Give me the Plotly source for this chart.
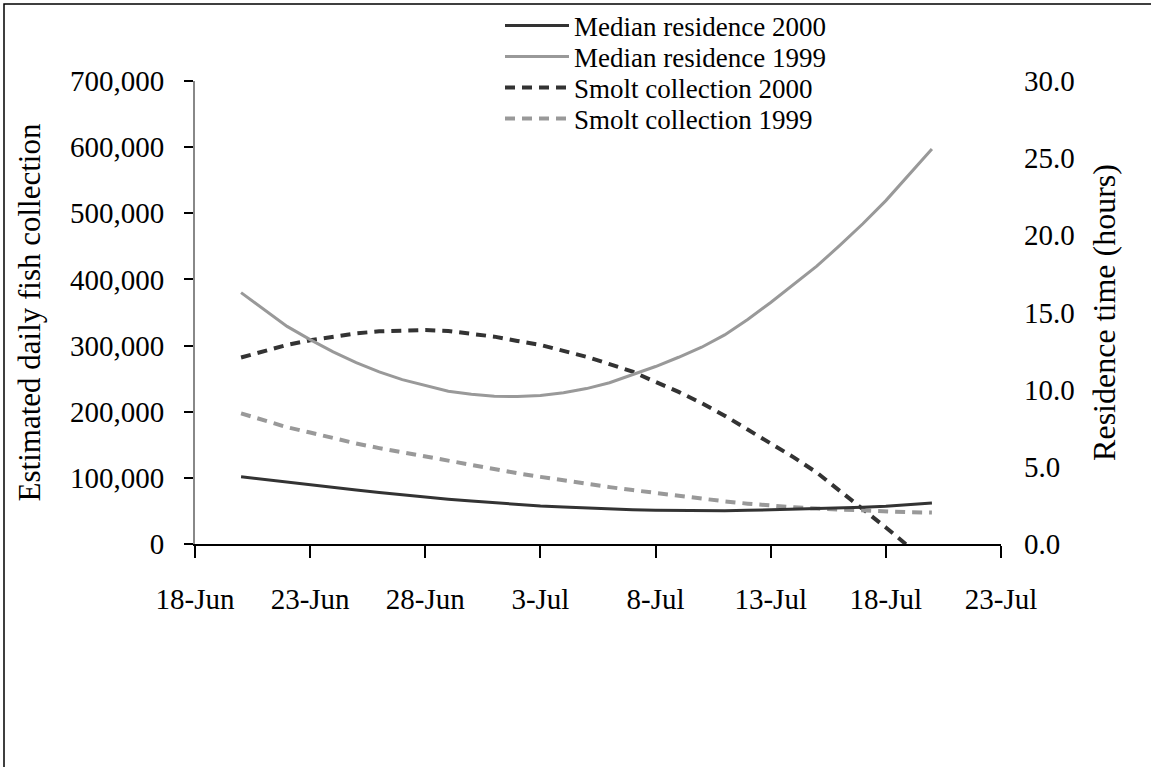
import plotly.graph_objects as go
import pandas as pd

# ---- data ----
dates = pd.date_range("2000-06-20", "2000-07-20", freq="D")

residence_2000 = [4.36, 4.18, 4.00, 3.82, 3.66, 3.50, 3.34, 3.18, 3.03, 2.90,
                  2.78, 2.66, 2.56, 2.46, 2.39, 2.32, 2.27, 2.22, 2.19, 2.17,
                  2.15, 2.15, 2.18, 2.22, 2.25, 2.28, 2.32, 2.38, 2.45, 2.55, 2.66]

residence_1999 = [16.29, 15.17, 14.10, 13.24, 12.45, 11.75, 11.15, 10.65, 10.28, 9.90,
                  9.70, 9.58, 9.55, 9.62, 9.80, 10.07, 10.45, 10.95, 11.50, 12.10,
                  12.75, 13.55, 14.55, 15.65, 16.80, 18.00, 19.35, 20.75, 22.25, 23.90, 25.60]

smolt_2000 = [282000, 292000, 301000, 308000, 314000, 318500, 321500, 323000, 323500, 322000,
              318500, 313500, 307000, 301000, 292000, 283000, 272000, 260500, 245000, 230000,
              213000, 194000, 173000, 152000, 131000, 108000, 80500, 53500, 25000, -4000, -36000]

smolt_1999 = [197500, 186500, 176500, 168500, 160000, 152000, 145000, 138500, 132000, 126000,
              119500, 113000, 107000, 101500, 96000, 91000, 86000, 81500, 77000, 73000,
              68000, 64500, 61000, 58000, 55500, 53500, 52000, 50500, 49000, 48000, 47500]

names = ["Median residence 2000", "Median residence 1999",
         "Smolt collection 2000", "Smolt collection 1999"]

FONT = "Liberation Serif"
DARK = "#333333"
GREY = "#999999"

fig = go.Figure()
fig.add_trace(go.Scatter(x=dates, y=residence_2000, name=names[0], mode="lines",
                         line=dict(color=DARK, width=3), yaxis="y2", legend="legend"))
fig.add_trace(go.Scatter(x=dates, y=residence_1999, name=names[1], mode="lines",
                         line=dict(color=GREY, width=3), yaxis="y2", legend="legend2"))
fig.add_trace(go.Scatter(x=dates, y=smolt_2000, name=names[2], mode="lines",
                         line=dict(color=DARK, width=4, dash="10px,7px"), yaxis="y",
                         legend="legend3"))
fig.add_trace(go.Scatter(x=dates, y=smolt_1999, name=names[3], mode="lines",
                         line=dict(color=GREY, width=4, dash="10px,7px"), yaxis="y",
                         legend="legend4"))

L, R, T, B = 195, 150, 81, 223
W, H = 1151, 767
pw, ph = W - L - R, H - T - B


def py(pix):
    return (H - B - pix) / ph


def px(pix):
    return (pix - L) / pw


leg_common = dict(x=px(500), xanchor="left", yanchor="middle",
                  font=dict(family=FONT, size=27, color="black"),
                  bgcolor="rgba(0,0,0,0)", itemwidth=64, borderwidth=0)

fig.update_layout(
    width=W, height=H,
    margin=dict(l=L, r=R, t=T, b=B, pad=0, autoexpand=False),
    paper_bgcolor="white", plot_bgcolor="white",
    font=dict(family=FONT, size=28, color="black"),
    showlegend=True,
    legend=dict(y=py(26), **leg_common),
    legend2=dict(y=py(57), **leg_common),
    legend3=dict(y=py(88), **leg_common),
    legend4=dict(y=py(119), **leg_common),
    xaxis=dict(type="date", range=["2000-06-18", "2000-07-23"],
               tick0="2000-06-18", dtick=5 * 86400000, tickformat="%-d-%b",
               showgrid=False, zeroline=False, showline=True, linecolor="black",
               linewidth=1.5, ticks="outside", ticklen=12, tickwidth=1.5,
               tickcolor="black", ticklabelstandoff=16, automargin=False,
               tickfont=dict(family=FONT, size=29, color="black")),
    yaxis=dict(range=[0, 700000], dtick=100000, tickformat=",", showgrid=False,
               zeroline=False, showline=True, linecolor="#888888", linewidth=2,
               ticks="outside", ticklen=9, tickwidth=1.5, tickcolor="black",
               ticklabelstandoff=14, automargin=False,
               tickfont=dict(family=FONT, size=29, color="black"),
               title=dict(text="Estimated daily fish collection", standoff=20,
                          font=dict(family=FONT, size=31, color="black"))),
    yaxis2=dict(range=[0, 30], dtick=5, tickformat=".1f", overlaying="y",
                side="right", showgrid=False, zeroline=False, showline=False,
                ticks="", ticklabelstandoff=22, automargin=False,
                tickfont=dict(family=FONT, size=29, color="black"),
                title=dict(text="Residence time (hours)", standoff=18,
                           font=dict(family=FONT, size=32, color="black"))),
    shapes=[dict(type="rect", xref="paper", yref="paper",
                 x0=px(4), x1=px(1165), y0=py(785), y1=py(4),
                 line=dict(color="black", width=1.5), fillcolor="rgba(0,0,0,0)",
                 layer="below")],
    hovermode=False,
)

fig.write_html("out.html", config={"displayModeBar": False},
               post_script="document.body.style.margin='0';")
